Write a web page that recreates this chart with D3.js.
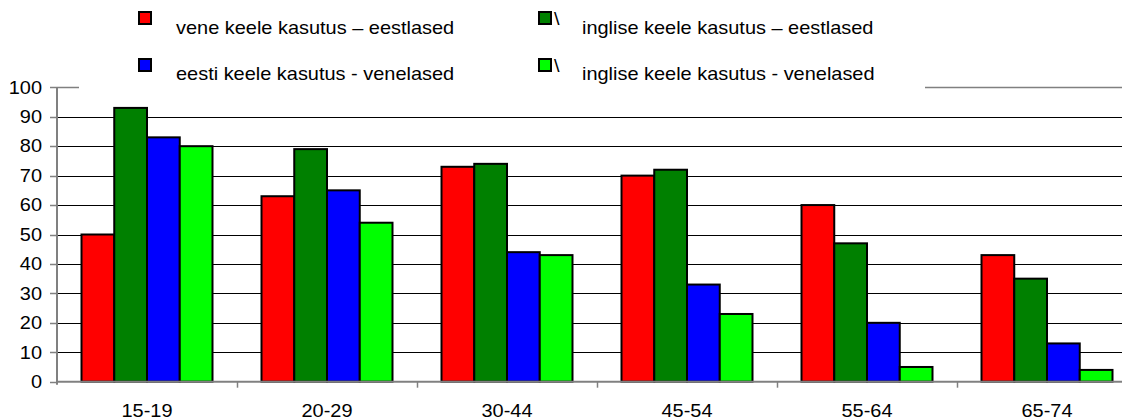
<!DOCTYPE html>
<html>
<head>
<meta charset="utf-8">
<script src="https://cdn.jsdelivr.net/npm/d3@7"></script>
<style>
  html, body { margin: 0; padding: 0; background: #fff; }
  svg { display: block; font-family: "Liberation Sans", Arial, sans-serif; }
</style>
</head>
<body>
<div id="chart"></div>
<script>
// age groups
const categories = ['15-19', '20-29', '30-44', '45-54', '55-64', '65-74'];
const seriesNames = [
    'vene keele kasutus \u2013 eestlased',
    'inglise keele kasutus \u2013 eestlased',
    'eesti keele kasutus - venelased',
    'inglise keele kasutus - venelased'
];
const seriesColors = ['#ff0000', '#008000', '#0000ff', '#00ff00'];
const russianEst = [50, 63, 73, 70, 60, 43];
const englishEst = [93, 79, 74, 72, 47, 35];
const estonianRus = [83, 65, 44, 33, 20, 13];
const englishRus = [80, 54, 43, 23, 5, 4];
const yTicks = [0, 10, 20, 30, 40, 50, 60, 70, 80, 90, 100];

const seriesValues = [russianEst, englishEst, estonianRus, englishRus];

const W = 1122, H = 420;
const stretch = 1.14; // text looks horizontally stretched in the original
const fontSize = 17.5;

const svg = d3.select('#chart').append('svg')
    .attr('width', W)
    .attr('height', H);

const x0 = d3.scaleBand().domain(categories).range([57, 57 + 180 * categories.length]).padding(0);
const x1 = d3.scaleBand().domain(d3.range(seriesNames.length)).range([24.5, 155.5]).padding(0);
const y = d3.scaleLinear().domain([0, 100]).range([381.7, 87.3]);

// grid lines
svg.append('g').selectAll('line')
    .data(yTicks.filter(d => d > 0 && d < 100))
    .enter().append('line')
    .attr('x1', 57).attr('x2', W)
    .attr('y1', d => Math.round(y(d)) + 0.5)
    .attr('y2', d => Math.round(y(d)) + 0.5)
    .attr('stroke', '#000')
    .attr('stroke-width', 1);

// top border of plot area
svg.append('line')
    .attr('x1', 57).attr('x2', W)
    .attr('y1', Math.round(y(100)) + 0.5).attr('y2', Math.round(y(100)) + 0.5)
    .attr('stroke', '#808080').attr('stroke-width', 1.5);

// bars
const groups = svg.append('g').selectAll('g')
    .data(categories)
    .enter().append('g')
    .attr('transform', d => 'translate(' + x0(d) + ',0)');

groups.selectAll('rect')
    .data((d, i) => seriesValues.map((s, k) => ({ k: k, value: s[i] })))
    .enter().append('rect')
    .attr('x', d => x1(d.k))
    .attr('width', x1.bandwidth())
    .attr('y', d => y(d.value))
    .attr('height', d => y(0) - y(d.value))
    .attr('fill', d => seriesColors[d.k])
    .attr('stroke', '#000')
    .attr('stroke-width', 2);

// y axis
const yAxis = svg.append('g');
yAxis.append('line')
    .attr('x1', 57).attr('x2', 57)
    .attr('y1', y(100)).attr('y2', y(0) + 3)
    .attr('stroke', '#808080').attr('stroke-width', 2);
yAxis.selectAll('.ytick')
    .data(yTicks)
    .enter().append('line')
    .attr('class', 'ytick')
    .attr('x1', 50).attr('x2', 57)
    .attr('y1', d => Math.round(y(d)) + 0.5)
    .attr('y2', d => Math.round(y(d)) + 0.5)
    .attr('stroke', '#808080').attr('stroke-width', 1.5);
yAxis.selectAll('text')
    .data(yTicks)
    .enter().append('text')
    .attr('transform', d => 'translate(42,' + (y(d) + 6.3) + ') scale(' + stretch + ',1)')
    .attr('text-anchor', 'end')
    .attr('font-size', fontSize)
    .attr('fill', '#000')
    .text(d => d);

// x axis
const xAxis = svg.append('g');
xAxis.append('line')
    .attr('x1', 57).attr('x2', W)
    .attr('y1', y(0)).attr('y2', y(0))
    .attr('stroke', '#808080').attr('stroke-width', 2);
xAxis.selectAll('.xtick')
    .data(categories.slice(1))
    .enter().append('line')
    .attr('class', 'xtick')
    .attr('x1', d => Math.round(x0(d)) + 0.5)
    .attr('x2', d => Math.round(x0(d)) + 0.5)
    .attr('y1', y(0)).attr('y2', y(0) + 6)
    .attr('stroke', '#808080').attr('stroke-width', 1.5);
xAxis.selectAll('text')
    .data(categories)
    .enter().append('text')
    .attr('transform', d => 'translate(' + (x0(d) + x0.bandwidth() / 2) + ',417) scale(' + stretch + ',1)')
    .attr('text-anchor', 'middle')
    .attr('font-size', fontSize)
    .attr('fill', '#000')
    .text(d => d);

// legend (white box over the top of the plot)
const legend = svg.append('g');
legend.append('rect')
    .attr('x', 79).attr('y', 0)
    .attr('width', 925 - 79).attr('height', 90)
    .attr('fill', '#fff');

const legendPos = [
    { sx: 139, sy: 12, tx: 176, ty: 34, slash: false },
    { sx: 539, sy: 12, tx: 582, ty: 34, slash: true },
    { sx: 139, sy: 59, tx: 176, ty: 80, slash: false },
    { sx: 539, sy: 59, tx: 582, ty: 80, slash: true }
];

const items = legend.selectAll('.item')
    .data(seriesNames.map((name, i) => ({ name: name, i: i, pos: legendPos[i] })))
    .enter().append('g')
    .attr('class', 'item');

items.append('rect')
    .attr('x', d => d.pos.sx)
    .attr('y', d => d.pos.sy)
    .attr('width', 12).attr('height', 12)
    .attr('fill', d => seriesColors[d.i])
    .attr('stroke', '#000')
    .attr('stroke-width', 2);

items.filter(d => d.pos.slash)
    .append('text')
    .attr('transform', d => 'translate(' + (d.pos.sx + 15) + ',' + (d.pos.sy + 13) + ') scale(' + stretch + ',1)')
    .attr('font-size', fontSize)
    .attr('fill', '#000')
    .text('\\');

items.append('text')
    .attr('transform', d => 'translate(' + d.pos.tx + ',' + d.pos.ty + ') scale(' + stretch + ',1)')
    .attr('font-size', fontSize)
    .attr('fill', '#000')
    .text(d => d.name);
</script>
</body>
</html>
